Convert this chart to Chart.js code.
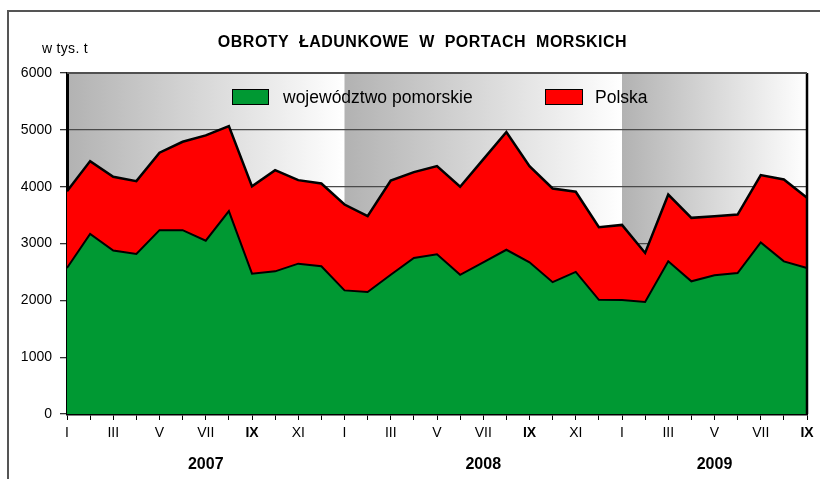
<!DOCTYPE html>
<html>
<head>
<meta charset="utf-8">
<script src="https://cdn.jsdelivr.net/npm/chart.js@4.4.0/dist/chart.umd.min.js"></script>
<style>
  html, body { margin: 0; padding: 0; background: #fff; overflow: hidden; }
  #wrap { position: relative; width: 820px; height: 479px; overflow: hidden; }
  #hline { position: absolute; left: 7px; top: 10px; width: 813px; height: 2px; background: #555; }
  #vline { position: absolute; left: 7px; top: 10px; width: 2px; height: 469px; background: #555; }
  #title { position: absolute; left: 0; width: 845px; top: 33px; text-align: center; font: bold 16px "Liberation Sans", Arial, sans-serif; letter-spacing: 0.5px; word-spacing: 5px; color: #000; white-space: nowrap; }
  #unit { position: absolute; left: 42px; top: 40px; font: 14px "Liberation Sans", Arial, sans-serif; color: #000; letter-spacing: 0.3px; }
  canvas { position: absolute; left: 0; top: 0; }
</style>
</head>
<body>
<div id="wrap">
  <div id="hline"></div>
  <div id="vline"></div>
  <canvas id="c" width="820" height="479"></canvas>
  <div id="title">OBROTY ŁADUNKOWE W PORTACH MORSKICH</div>
  <div id="unit">w tys. t</div>
</div>
<script>
const months = ['I','II','III','IV','V','VI','VII','VIII','IX','X','XI','XII',
                'I','II','III','IV','V','VI','VII','VIII','IX','X','XI','XII',
                'I','II','III','IV','V','VI','VII','VIII','IX'];
const years = ['2007', '2008', '2009'];
const yearLabelIndex = [6, 18, 28];
const yearStartIndex = [0, 12, 24];
const seriesNames = ['województwo pomorskie', 'Polska'];
const pomorskie = [2570, 3170, 2875, 2815, 3235, 3235, 3050, 3570, 2470, 2510, 2645, 2600,
                   2175, 2145, 2450, 2745, 2810, 2450, 2670, 2890, 2670, 2320, 2500, 2010,
                   2005, 1970, 2686, 2335, 2440, 2480, 3020, 2686, 2570];
const polska = [3920, 4450, 4175, 4097, 4598, 4790, 4903, 5067, 4005, 4291, 4115, 4056,
                3686, 3480, 4109, 4256, 4362, 3998, 4480, 4962, 4362, 3968, 3910, 3286,
                3327, 2834, 3862, 3451, 3480, 3510, 4203, 4127, 3804];
const yTicks = [0, 1000, 2000, 3000, 4000, 5000, 6000];

const FONT = '"Liberation Sans", Arial, sans-serif';

const bandsPlugin = {
  id: 'bands',
  beforeDraw(chart) {
    const { ctx, chartArea: a, scales: { x } } = chart;
    ctx.save();
    for (let i = 0; i < yearStartIndex.length; i++) {
      const x0 = x.getPixelForValue(yearStartIndex[i]);
      const x1 = i + 1 < yearStartIndex.length ? x.getPixelForValue(yearStartIndex[i + 1]) : a.right;
      const g = ctx.createLinearGradient(x0, 0, x1, 0);
      g.addColorStop(0, '#b2b2b2');
      g.addColorStop(1, '#ffffff');
      ctx.fillStyle = g;
      ctx.fillRect(x0, a.top, x1 - x0, a.bottom - a.top);
    }
    ctx.restore();
  },
  afterDatasetsDraw(chart) {
    const { ctx, chartArea: a } = chart;
    ctx.save();
    ctx.strokeStyle = '#000';
    ctx.lineWidth = 2.5;
    ctx.beginPath();
    ctx.moveTo(a.right, a.top);
    ctx.lineTo(a.right, a.bottom);
    ctx.stroke();
    ctx.strokeStyle = '#505050';
    ctx.lineWidth = 2;
    ctx.beginPath();
    ctx.moveTo(a.left, a.top);
    ctx.lineTo(a.right, a.top);
    ctx.stroke();
    ctx.restore();
  },
  afterDraw(chart) {
    const { ctx, scales: { x } } = chart;
    ctx.save();
    ctx.fillStyle = '#000';
    ctx.textAlign = 'center';
    ctx.textBaseline = 'middle';
    ctx.font = 'bold 16px ' + FONT;
    years.forEach((y, i) => {
      ctx.fillText(y, x.getPixelForValue(yearLabelIndex[i]), 465);
    });
    const items = [
      { box: [232, 89, 36, 15], tx: 283, color: '#009933', name: seriesNames[0] },
      { box: [545, 89, 37, 15], tx: 595, color: '#ff0000', name: seriesNames[1] }
    ];
    ctx.textAlign = 'left';
    ctx.font = '17.5px ' + FONT;
    items.forEach(it => {
      ctx.fillStyle = it.color;
      ctx.fillRect(...it.box);
      ctx.strokeStyle = '#000';
      ctx.lineWidth = 1;
      ctx.strokeRect(it.box[0] + 0.5, it.box[1] + 0.5, it.box[2], it.box[3]);
      ctx.fillStyle = '#000';
      ctx.fillText(it.name, it.tx, 98);
    });
    ctx.restore();
  }
};

new Chart(document.getElementById('c'), {
  type: 'line',
  data: {
    labels: months,
    datasets: [
      {
        label: seriesNames[0],
        data: pomorskie,
        backgroundColor: '#009933',
        borderColor: '#000',
        borderWidth: 2,
        fill: 'origin',
        pointRadius: 0,
        tension: 0
      },
      {
        label: seriesNames[1],
        data: polska,
        backgroundColor: '#ff0000',
        borderColor: '#000',
        borderWidth: 2.5,
        fill: 'origin',
        pointRadius: 0,
        tension: 0
      }
    ]
  },
  options: {
    responsive: false,
    animation: false,
    events: [],
    layout: { padding: { left: 0, top: 73, right: 13, bottom: 0 } },
    plugins: { legend: { display: false }, tooltip: { enabled: false }, title: { display: false } },
    scales: {
      x: {
        type: 'category',
        offset: false,
        afterFit(s) { s.height = 65; },
        border: { display: true, color: '#000', width: 2.5 },
        grid: { drawOnChartArea: false, tickLength: 6, color: '#000', tickColor: '#000', tickWidth: 1 },
        ticks: {
          autoSkip: false,
          maxRotation: 0,
          minRotation: 0,
          padding: 5,
          color: '#000',
          font: (ctx) => ({ family: FONT, size: 14, weight: (ctx.tick && ctx.tick.label === 'IX') ? 'bold' : 'normal' }),
          callback: (v, i) => (i % 2 === 0 ? months[i] : '')
        }
      },
      y: {
        min: 0,
        max: 6000,
        afterFit(s) { s.width = 67; },
        afterBuildTicks(s) { s.ticks = yTicks.map(v => ({ value: v })); },
        border: { display: true, color: '#000', width: 3 },
        grid: { color: '#4a4a4a', lineWidth: 1.3, tickLength: 7, tickColor: '#333' },
        ticks: { color: '#000', padding: 8, font: { family: FONT, size: 14 }, callback: (v) => String(v) }
      }
    }
  },
  plugins: [bandsPlugin]
});
</script>
</body>
</html>
